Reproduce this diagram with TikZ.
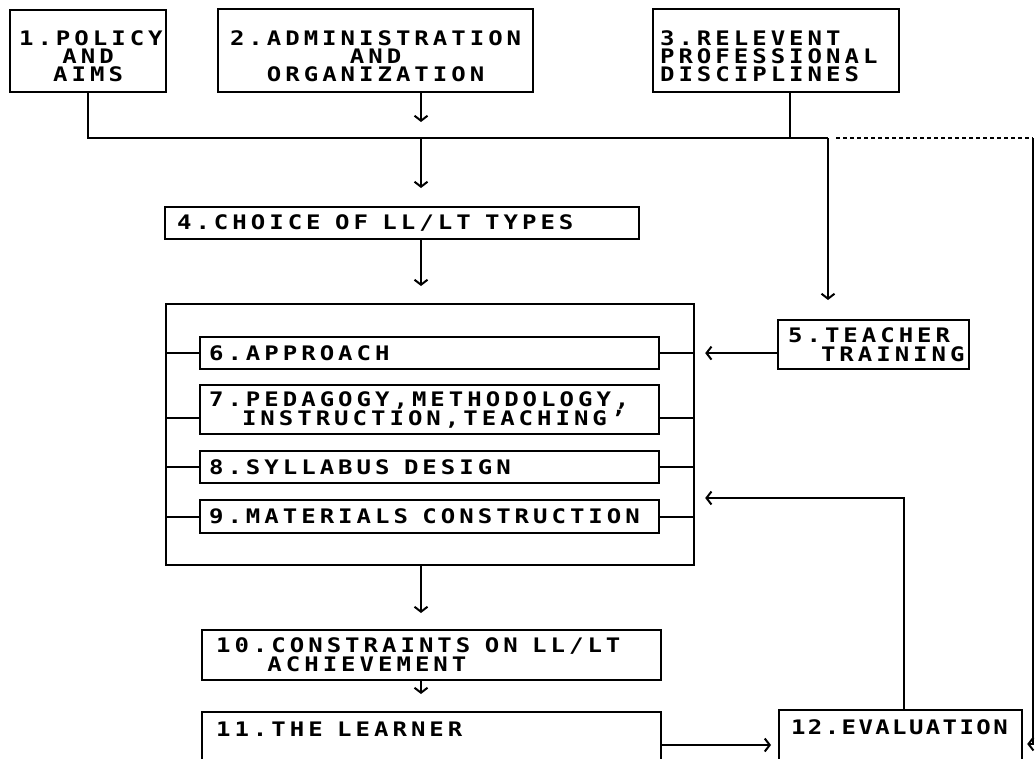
\documentclass[tikz,border=0pt]{standalone}
\usepackage{fontspec}
\newfontfamily\dotfont[LetterSpace=20,FakeStretch=1.2]{DejaVu Sans Mono}
\newfontfamily\dotfontn[LetterSpace=12,FakeStretch=1.2]{DejaVu Sans Mono}
\usetikzlibrary{arrows.meta,positioning}
\newcommand{\blank}{\phantom{X}}
\newcommand{\drop}{\rule{0pt}{26pt}}

\begin{document}
\begin{tikzpicture}[x=1pt,y=-1pt,
  blk/.style={draw,line width=2.2pt,anchor=north west,inner xsep=9pt,inner ysep=0pt,align=left,
    font=\dotfont\bfseries\fontsize{20}{17}\selectfont},
  tall/.style={font=\dotfont\bfseries\fontsize{20}{18}\selectfont},
  ln/.style={line width=2pt},
  ar/.style={-{Straight Barb[length=5pt,width=13pt]},line width=2pt}]
  \useasboundingbox (0,0) rectangle (1035,758);
  \clip (0,0) rectangle (1035,758);
  % sources
  \node[blk,tall,align=center,text width=138pt,minimum height=82pt] (policy) at (9,9) {\drop1.POLICY\\AND\\AIMS};
  \node[blk,tall,align=center,text width=297pt,minimum height=83pt] (admin) at (217,8) {\drop2.ADMINISTRATION\\AND\\ORGANIZATION};
  \node[blk,tall,inner xsep=7pt,text width=232pt,minimum height=83pt] (relev) at (652,8) {\drop3.RELEVENT\\PROFESSIONAL\\DISCIPLINES};
  % main column
  \node[blk,inner xsep=12pt,text width=450pt,minimum height=32pt] (choice) at (164,206) {4.CHOICE\blank OF\blank LL/LT\blank TYPES};
  \node[draw,line width=2.2pt,anchor=north west,minimum width=528pt,minimum height=261pt] (core) at (165,303) {};
  \node[blk,text width=441pt,minimum height=32pt] (appr) at (199,336) {6.APPROACH};
  \node[blk,text width=441pt,minimum height=49pt] (peda) at (199,384) {7.PEDAGOGY,METHODOLOGY,\\\phantom{7.}INSTRUCTION,TEACHING’};
  \node[blk,text width=441pt,minimum height=32pt] (syll) at (199,450) {8.SYLLABUS\blank DESIGN};
  \node[blk,text width=441pt,minimum height=33pt] (matl) at (199,499) {9.MATERIALS\blank CONSTRUCTION};
  \node[blk,inner xsep=10pt,text width=171pt,minimum height=49pt] (teach) at (777,319) {5.TEACHER\\[2pt]\phantom{5.}TRAINING};
  \node[blk,inner xsep=14pt,text width=431pt,minimum height=50pt] (constr) at (201,629) {10.CONSTRAINTS\blank ON\blank LL/LT\\[2pt]\phantom{10.}ACHIEVEMENT};
  \node[blk,inner xsep=14pt,inner ysep=10pt,text width=431pt] (learner) at (201,711) {11.THE\blank LEARNER\\[60pt]\mbox{}};
  \node[blk,inner xsep=12pt,inner ysep=10pt,text width=219pt,font=\dotfontn\bfseries\fontsize{20}{17}\selectfont] (eval) at (778,709) {12.EVALUATION\\[60pt]\mbox{}};
  % ticks on the inner boxes
  \foreach \b/\dy in {appr/0,peda/8,syll/0,matl/0}{
    \draw[ln] ([yshift=-\dy pt]\b.west) -- ++(-34,0);
    \draw[ln] ([yshift=-\dy pt]\b.east) -- ++(35,0);
  }
  % bus
  \coordinate (col) at (421,138);
  \coordinate (a2) at (421,122);
  \coordinate (stem3) at (790,138);
  \coordinate (busR) at (828,138);
  \coordinate (busE) at (1033,138);
  \coordinate (fb) at (904,498);
  \draw[ln] (policy.south) |- (busR);
  \draw[ln] (stem3 |- relev.south) -- (stem3);
  \draw[ar] (a2 |- admin.south) -- (a2);
  \draw[ar,shorten >=18pt] (col) -- (col |- choice.north);
  \draw[ar,shorten >=17pt] (col |- choice.south) -- (col |- core.north);
  \draw[ar,shorten >=16pt] (col |- core.south) -- (col |- constr.north);
  \draw[ar,shorten >=17pt] (col |- constr.south) -- (col |- learner.north);
  \draw[ar,shorten >=19pt] (busR) -- (busR |- teach.north);
  \draw[ar,shorten >=10pt] (teach.west |- appr.east) -- (core.east |- appr.east);
  \draw[ar,shorten >=10pt] (fb |- eval.north) -- (fb) -- (fb -| core.east);
  \draw[ar,shorten >=7pt] ([yshift=-34pt]learner.north east) -- ([yshift=-36pt]eval.north west);
  \draw[ln,dash pattern=on 4pt off 3pt] ([xshift=8pt]busR) -- (busE);
  \draw[ar,shorten >=4pt] (busE) |- ([yshift=-35pt]eval.north east);
\end{tikzpicture}
\end{document}
